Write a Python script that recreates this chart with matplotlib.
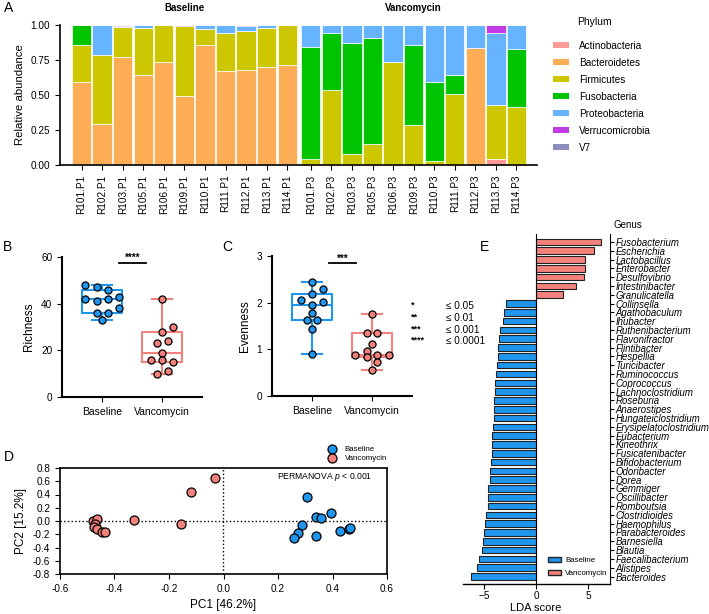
import numpy as np
import matplotlib
matplotlib.use('Agg')
import matplotlib.pyplot as plt
from matplotlib.patches import Patch

plt.rcParams['font.family'] = ['Liberation Sans', 'DejaVu Sans']
plt.rcParams['mathtext.fontset'] = 'custom'
plt.rcParams['mathtext.it'] = 'Liberation Sans:italic'

# ---------- data ----------
samples = ['R101.P1', 'R102.P1', 'R103.P1', 'R105.P1', 'R106.P1', 'R109.P1', 'R110.P1',
           'R111.P1', 'R112.P1', 'R113.P1', 'R114.P1',
           'R101.P3', 'R102.P3', 'R103.P3', 'R105.P3', 'R106.P3', 'R109.P3', 'R110.P3',
           'R111.P3', 'R112.P3', 'R113.P3', 'R114.P3']
phyla = ['Actinobacteria', 'Bacteroidetes', 'Firmicutes', 'Fusobacteria',
         'Proteobacteria', 'Verrucomicrobia', 'V7']
actino = [0, 0.01, 0, 0, 0, 0, 0, 0, 0, 0, 0.005, 0, 0, 0, 0, 0, 0, 0, 0, 0, 0.043, 0]
bacteroidetes = [0.595, 0.283, 0.771, 0.643, 0.738, 0.493, 0.857, 0.671, 0.681, 0.698, 0.709,
                 0, 0, 0, 0, 0, 0, 0, 0, 0.836, 0, 0]
firmicutes = [0.265, 0.49, 0.217, 0.338, 0.262, 0.5, 0.114, 0.272, 0.276, 0.278, 0.286,
              0.043, 0.533, 0.079, 0.15, 0.733, 0.286, 0.026, 0.505, 0, 0.388, 0.417]
fusobacteria = [0.14, 0, 0, 0, 0, 0, 0, 0, 0, 0, 0,
                0.797, 0.412, 0.795, 0.755, 0, 0.571, 0.569, 0.14, 0, 0, 0.412]
proteobacteria = [0, 0.217, 0.004, 0.019, 0, 0.003, 0.029, 0.057, 0.033, 0.024, 0,
                  0.16, 0.055, 0.126, 0.095, 0.267, 0.143, 0.405, 0.355, 0.164, 0.512, 0.171]
verruco = [0, 0, 0.008, 0, 0, 0.004, 0, 0, 0.01, 0, 0,
           0, 0, 0, 0, 0, 0, 0, 0, 0, 0.057, 0]
v7 = [0] * 22
abund = [actino, bacteroidetes, firmicutes, fusobacteria, proteobacteria, verruco, v7]
phyla_colors = ['#FF9A96', '#FCAD55', '#CCC700', '#00C400', '#66B3FF', '#C23BE6', '#8D8DBD']

groups = ['Baseline', 'Vancomycin']
rich_base = [48, 47, 46, 42, 41, 42, 43, 36, 36, 38, 33]
rich_vanc = [42, 28, 30, 24, 23, 19, 16, 16, 15, 10, 11]
even_base = [2.45, 2.29, 2.18, 2.05, 2.02, 1.95, 1.77, 1.62, 1.62, 1.44, 0.90]
even_vanc = [1.76, 1.35, 1.35, 1.12, 0.96, 0.88, 0.83, 0.87, 0.87, 0.73, 0.56]

pc_base_x = [0.307, 0.340, 0.358, 0.396, 0.289, 0.272, 0.257, 0.340, 0.427, 0.459, 0.465]
pc_base_y = [0.36, 0.056, 0.04, 0.122, -0.061, -0.187, -0.263, -0.228, -0.152, -0.116, -0.106]
pc_vanc_x = [-0.033, -0.121, -0.328, -0.156, -0.478, -0.465, -0.470, -0.474, -0.465, -0.445, -0.435]
pc_vanc_y = [0.648, 0.435, 0.02, -0.046, 0.005, 0.025, -0.051, -0.086, -0.122, -0.162, -0.167]

genus = ['Fusobacterium', 'Escherichia', 'Lactobacillus', 'Enterobacter', 'Desulfovibrio',
         'Intestinibacter', 'Granulicatella', 'Collinsella', 'Agathobaculum', 'Ihubacter',
         'Ruthenibacterium', 'Flavonifractor', 'Flintibacter', 'Hespellia', 'Turicibacter',
         'Ruminococcus', 'Coprococcus', 'Lachnoclostridium', 'Roseburia', 'Anaerostipes',
         'Hungateiclostridium', 'Erysipelatoclostridium', 'Eubacterium', 'Kineothrix',
         'Fusicatenibacter', 'Bifidobacterium', 'Odoribacter', 'Dorea', 'Gemmiger',
         'Oscillibacter', 'Romboutsia', 'Clostridioides', 'Haemophilus', 'Parabacteroides',
         'Barnesiella', 'Blautia', 'Faecalibacterium', 'Alistipes', 'Bacteroides']
lda = [6.25, 5.55, 4.74, 4.71, 4.62, 3.81, 2.60, -2.88, -3.08, -3.17,
       -3.43, -3.56, -3.62, -3.69, -3.78, -3.85, -3.91, -3.94, -4.04, -4.07,
       -4.07, -4.10, -4.20, -4.26, -4.26, -4.29, -4.42, -4.42, -4.58, -4.62,
       -4.65, -4.78, -4.87, -5.03, -5.06, -5.22, -5.42, -5.61, -6.28]

blue = '#1E96EE'
red = '#F4827C'

W, H = 709, 614


def box(l, t, r, b):
    return [l / W, 1 - b / H, (r - l) / W, (b - t) / H]


def clean(ax, lw=1.2):
    for s in ['top', 'right']:
        ax.spines[s].set_visible(False)
    for s in ['left', 'bottom']:
        ax.spines[s].set_linewidth(lw)


fig = plt.figure(figsize=(7.09, 6.14), dpi=100)

# ---------- A ----------
axA = fig.add_axes(box(60, 25, 537, 165))
xpos = np.r_[np.arange(11), np.arange(11) + 11.15]
bottom = np.zeros(22)
for name, vals, c in zip(phyla, abund, phyla_colors):
    axA.bar(xpos, vals, 0.94, bottom=bottom, color=c, edgecolor='white', linewidth=0.5)
    bottom += np.array(vals)
axA.set_xlim(-1.05, 22.15)
axA.set_ylim(0, 1)
axA.set_yticks([0, 0.25, 0.5, 0.75, 1.0])
axA.set_yticklabels(['0.00', '0.25', '0.50', '0.75', '1.00'], fontsize=7.2)
axA.set_xticks(xpos)
axA.set_xticklabels(samples, rotation=90, fontsize=7.2)
axA.set_ylabel('Relative abundance', fontsize=8.2)
clean(axA)
tr = axA.get_xaxis_transform()
axA.text(5, 1.12, 'Baseline', transform=tr, ha='center', va='center', fontsize=7, fontweight='bold')
axA.text(16.15, 1.12, 'Vancomycin', transform=tr, ha='center', va='center', fontsize=7, fontweight='bold')
fig.text(577 / W, 1 - 22 / H, 'Phylum', fontsize=7.5, va='center')
handles = [Patch(facecolor=c, edgecolor='none') for c in phyla_colors]
fig.legend(handles, phyla, loc='upper left', bbox_to_anchor=(548 / W, 1 - 36 / H),
           frameon=False, fontsize=7.2, handlelength=1.6, handleheight=0.55,
           labelspacing=0.7, handletextpad=1.0, borderpad=0)


# ---------- B and C ----------
def stats(v):
    q1, med, q3 = np.percentile(v, [25, 50, 75], method='weibull')
    return dict(med=med, q1=q1, q3=q3, whislo=min(v), whishi=max(v), fliers=[])


def dotbox(ax, base, vanc, off_b, off_v, ymax, ticks, ylabel, stars, liney):
    bp = ax.bxp([stats(base), stats(vanc)], positions=[0, 1], widths=0.67,
                showfliers=False, patch_artist=False)
    for i, c in enumerate([blue, red]):
        bp['boxes'][i].set(color=c, linewidth=1.5)
        bp['medians'][i].set(color=c, linewidth=1.5)
        for k in (2 * i, 2 * i + 1):
            bp['whiskers'][k].set(color=c, linewidth=1.5)
            bp['caps'][k].set(color=c, linewidth=1.5)
    ax.scatter(np.array(off_b), base, s=26, color=blue, edgecolor='black', linewidth=0.9, zorder=3)
    ax.scatter(1 + np.array(off_v), vanc, s=26, color=red, edgecolor='black', linewidth=0.9, zorder=3)
    ax.plot([0.28, 0.73], [liney, liney], color='black', lw=1.3)
    ax.text(0.505, liney, stars, ha='center', va='bottom', fontsize=7, fontweight='bold')
    ax.set_xlim(-0.67, 1.67)
    ax.set_ylim(0, ymax)
    ax.set_yticks(ticks)
    ax.tick_params(labelsize=7.2)
    ax.set_xticks([0, 1])
    ax.set_xticklabels(groups, fontsize=7.5)
    ax.set_ylabel(ylabel, fontsize=8.5)
    clean(ax, 1.5)


axB = fig.add_axes(box(62, 257, 202, 397))
dotbox(axB, rich_base, rich_vanc,
       [-0.28, -0.08, 0.1, -0.28, -0.08, 0.1, 0.29, -0.08, 0.1, 0.29, 0],
       [0, 0, 0.19, 0.1, -0.09, 0, -0.18, 0, 0.19, -0.09, 0.1],
       60, [0, 20, 40, 60], 'Richness', '****', 57.5)

axC = fig.add_axes(box(272, 256, 412, 396))
dotbox(axC, even_base, even_vanc,
       [0, 0.18, 0, -0.19, 0.18, 0, 0, -0.09, 0.09, 0, 0],
       [0, -0.09, 0.09, 0, -0.09, -0.29, -0.09, 0.09, 0.28, 0.09, 0],
       3, [0, 1, 2, 3], 'Evenness', '***', 2.84)

sig_stars = ['*', '**', '***', '****']
sig_p = ['\u2264 0.05', '\u2264 0.01', '\u2264 0.001', '\u2264 0.0001']
for i, (s, p) in enumerate(zip(sig_stars, sig_p)):
    fig.text(411 / W, 1 - (305 + 11.8 * i) / H, s, fontsize=6.5, fontweight='bold', va='center')
    fig.text(446 / W, 1 - (306 + 11.8 * i) / H, p, fontsize=7.2, va='center')

# ---------- D ----------
axD = fig.add_axes(box(60, 468, 387, 574))
axD.axhline(0, color='black', ls=':', lw=1, zorder=1)
axD.axvline(0, color='black', ls=':', lw=1, zorder=1)
axD.scatter(pc_base_x, pc_base_y, s=42, color=blue, edgecolor='black', linewidth=0.9, zorder=3, label='Baseline')
axD.scatter(pc_vanc_x, pc_vanc_y, s=42, color=red, edgecolor='black', linewidth=0.9, zorder=3, label='Vancomycin')
axD.set_xlim(-0.6, 0.6)
axD.set_ylim(-0.8, 0.8)
axD.set_xticks(np.arange(-0.6, 0.61, 0.2))
axD.set_xticklabels(['-0.6', '-0.4', '-0.2', '0.0', '0.2', '0.4', '0.6'])
axD.set_yticks(np.arange(-0.8, 0.81, 0.2))
axD.set_yticklabels(['-0.8', '-0.6', '-0.4', '-0.2', '0.0', '0.2', '0.4', '0.6', '0.8'])
axD.tick_params(labelsize=7.2)
for s in axD.spines.values():
    s.set_linewidth(1.2)
axD.set_xlabel('PC1 [46.2%]', fontsize=8.5)
axD.set_ylabel('PC2 [15.2%]', fontsize=8.5)
axD.text(0.955, 0.92, 'PERMANOVA $p$ < 0.001', transform=axD.transAxes, ha='right', va='center', fontsize=6.2)
axD.legend(loc='lower left', bbox_to_anchor=(320 / W, 1 - 466 / H), bbox_transform=fig.transFigure,
           frameon=False, fontsize=5.7, handletextpad=0.6, labelspacing=0.15, borderpad=0)

# ---------- E ----------
axE = fig.add_axes(box(463, 234, 610, 584))
ypos = np.arange(len(genus))
cols = [red if v > 0 else blue for v in lda]
axE.barh(ypos, lda, height=0.75, color=cols, edgecolor='#222222', linewidth=0.8, zorder=2)
axE.axvline(0, color='black', lw=0.8, zorder=3)
axE.set_ylim(len(genus) - 0.15, -0.9)
axE.set_xlim(-7, 7.1)
axE.set_xticks([-5, 0, 5])
axE.yaxis.tick_right()
axE.set_yticks(ypos)
axE.set_yticklabels(genus, fontsize=6.9, style='italic')
axE.tick_params(axis='y', length=3, width=0.8, pad=1)
axE.tick_params(axis='x', labelsize=7.2, pad=1.5)
axE.spines['top'].set_visible(False)
axE.spines['left'].set_visible(False)
axE.spines['right'].set_linewidth(0.8)
axE.spines['bottom'].set_linewidth(1)
fig.text(536 / W, 1 - 608 / H, 'LDA score', fontsize=8, ha='center', va='center')
fig.text(613 / W, 1 - 225 / H, 'Genus', fontsize=7, va='center')
axE.legend([Patch(facecolor=blue, edgecolor='#222222'), Patch(facecolor=red, edgecolor='#222222')],
           groups, loc='lower left', bbox_to_anchor=(544 / W, 1 - 581 / H), bbox_transform=fig.transFigure,
           frameon=False, fontsize=5.7, handlelength=1.6, handleheight=0.6,
           handletextpad=0.6, labelspacing=0.7, borderpad=0)

# ---------- panel letters ----------
for letter, x, y in [('A', 4, 8), ('B', 3, 247), ('C', 222, 247), ('D', 4, 457), ('E', 480, 247)]:
    fig.text(x / W, 1 - y / H, letter, fontsize=10, va='center')

fig.savefig('out.png', dpi=100)
